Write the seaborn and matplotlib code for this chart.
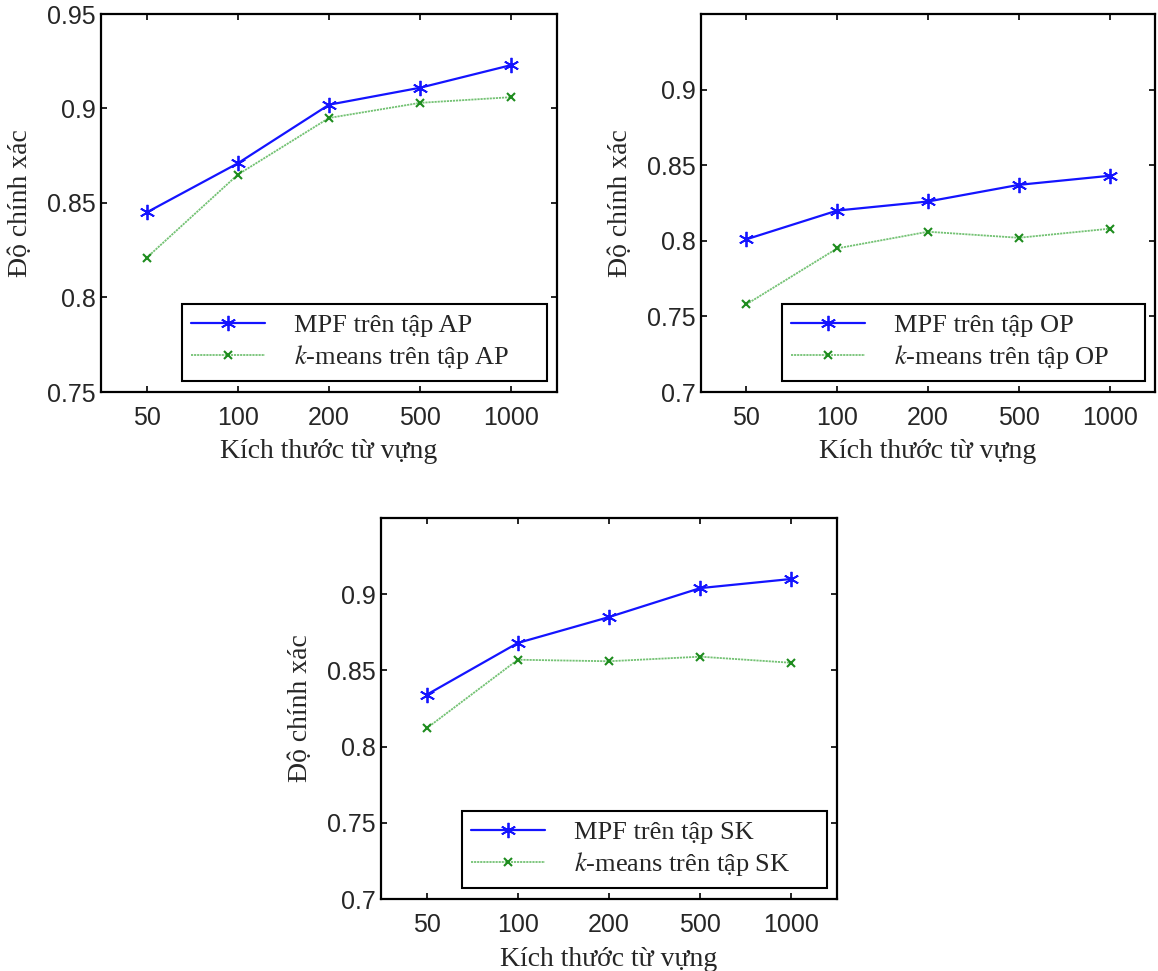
import numpy as np
import matplotlib
matplotlib.use("Agg")
import matplotlib.pyplot as plt
import seaborn as sns

# ---- data ----
vocab_sizes = ["50", "100", "200", "500", "1000"]
mpf_ap = [0.845, 0.871, 0.902, 0.911, 0.923]
km_ap = [0.821, 0.865, 0.895, 0.903, 0.906]
mpf_op = [0.801, 0.820, 0.826, 0.837, 0.843]
km_op = [0.758, 0.795, 0.806, 0.802, 0.808]
mpf_sk = [0.834, 0.868, 0.885, 0.904, 0.910]
km_sk = [0.812, 0.857, 0.856, 0.859, 0.855]
datasets = ["AP", "OP", "SK"]

sns.set_style("ticks")
plt.rcParams["mathtext.fontset"] = "stix"
plt.rcParams["font.family"] = ["Liberation Serif", "DejaVu Serif"]

SERIF = ["Liberation Serif", "DejaVu Serif"]
SANS = ["Liberation Sans", "DejaVu Sans"]

fig = plt.figure(figsize=(11.58, 9.71), dpi=100)
W, H = 1158, 971

def ax_at(x0, y0, x1, y1):
    return fig.add_axes([x0 / W, 1 - y1 / H, (x1 - x0) / W, (y1 - y0) / H])

axes = [ax_at(101, 14, 557, 392), ax_at(701, 14, 1155, 392), ax_at(381, 518, 837, 899)]
ylims = [(0.75, 0.95), (0.70, 0.95), (0.70, 0.95)]
yticks = [[0.75, 0.8, 0.85, 0.9, 0.95], [0.7, 0.75, 0.8, 0.85, 0.9], [0.7, 0.75, 0.8, 0.85, 0.9]]
mpf_all = [mpf_ap, mpf_op, mpf_sk]
km_all = [km_ap, km_op, km_sk]

xpos = np.arange(len(vocab_sizes))
for ax, ds, mpf, km, yl, yt in zip(axes, datasets, mpf_all, km_all, ylims, yticks):
    sns.lineplot(x=xpos, y=mpf, ax=ax, color="#1414ff", lw=1.6,
                 marker=(6, 2, 0), markersize=11, markeredgecolor="#1414ff",
                 markeredgewidth=1.3, label=f"MPF trên tập {ds}")
    sns.lineplot(x=xpos, y=km, ax=ax, color="#74c274", lw=1.3,
                 linestyle=(0, (1.2, 0.5)),
                 marker="x", markersize=6, markeredgecolor="#1e8c1e",
                 markeredgewidth=1.5, label=f"$k$-means trên tập {ds}")
    ax.set_xlim(-0.5, len(vocab_sizes) - 0.5)
    ax.set_ylim(*yl)
    ax.set_xticks(xpos)
    ax.set_xticklabels(vocab_sizes)
    ax.set_yticks(yt)
    ax.set_yticklabels([f"{v:g}" for v in yt])
    for lab in ax.get_xticklabels() + ax.get_yticklabels():
        lab.set_family(SANS)
        lab.set_fontsize(18)
    ax.tick_params(direction="in", length=4, width=1.2, top=True, right=True, color="black")
    ax.tick_params(axis="y", pad=4)
    ax.tick_params(axis="x", pad=10)
    for s in ax.spines.values():
        s.set_visible(True)
        s.set_linewidth(1.6)
        s.set_color("black")
    ax.set_xlabel("Kích thước từ vựng", fontsize=20, family=SERIF)
    ax.set_ylabel("Độ chính xác", fontsize=20, family=SERIF)
    ax.xaxis.set_label_coords(0.5, -0.125)
    ax.yaxis.set_label_coords(-0.15, 0.5)
    leg = ax.legend(loc="lower left", bbox_to_anchor=(0.178, 0.03, 0.8, 0.2), mode="expand",
                    borderaxespad=0, fancybox=False, framealpha=1, edgecolor="black",
                    prop={"family": SERIF, "size": 19}, handlelength=2.8, handletextpad=1.1,
                    labelspacing=0.25, borderpad=0.35)
    leg.get_frame().set_linewidth(1.5)

fig.savefig("out.png", dpi=100)
